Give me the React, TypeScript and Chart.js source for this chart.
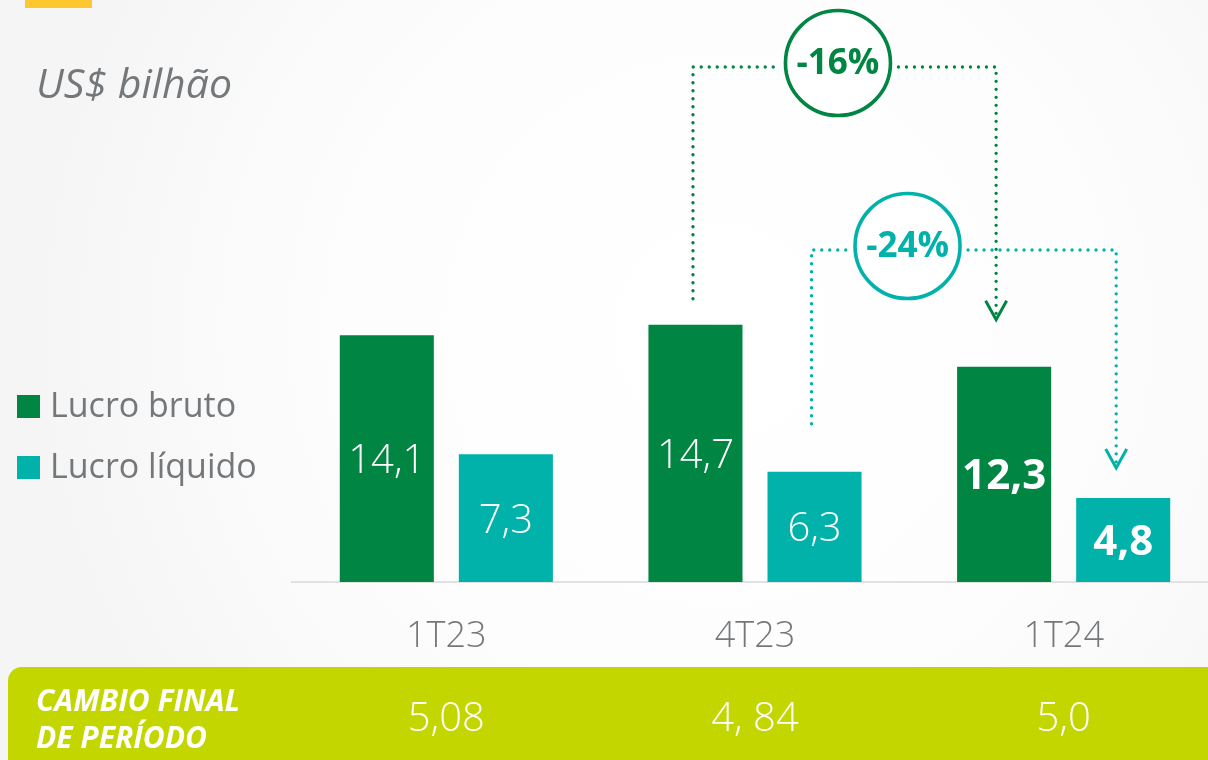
import React, { useEffect, useRef } from "react";
import { Chart, registerables } from "chart.js";

Chart.register(...registerables);

// ---------- data ----------
const categories = ["1T23", "4T23", "1T24"];
const seriesNames = ["Lucro bruto", "Lucro líquido"];
const lucroBruto = [14.1, 14.7, 12.3];
const lucroLiquido = [7.3, 6.3, 4.8];
const boldValue = [false, false, true];
const cambioFinal = ["5,08", "4, 84", "5,0"];
const cambioTitle = ["CAMBIO FINAL", "DE PERÍODO"];
const unitLabel = "US$ bilhão";
const changeBruto = "-16%";
const changeLiquido = "-24%";

// ---------- style ----------
const GREEN = "#008542";
const TEAL = "#00b2a9";
const LIME = "#c4d600";
const YELLOW = "#fdc82f";
const GRAY = "#75787b";
const FONT = '"Open Sans", "Noto Sans", sans-serif';

const fmt = (v: number) => v.toFixed(1).replace(".", ",");

function dotted(ctx: CanvasRenderingContext2D, pts: number[][], color: string) {
  ctx.save();
  ctx.strokeStyle = color;
  ctx.lineWidth = 3.4;
  ctx.lineCap = "round";
  ctx.setLineDash([0, 8]);
  ctx.beginPath();
  ctx.moveTo(pts[0][0], pts[0][1]);
  for (let i = 1; i < pts.length; i++) ctx.lineTo(pts[i][0], pts[i][1]);
  ctx.stroke();
  ctx.restore();
}

function arrowHead(ctx: CanvasRenderingContext2D, x: number, y: number, color: string) {
  ctx.save();
  ctx.strokeStyle = color;
  ctx.lineWidth = 3;
  ctx.lineJoin = "miter";
  ctx.beginPath();
  ctx.moveTo(x - 10.5, y - 19);
  ctx.lineTo(x, y);
  ctx.lineTo(x + 10.5, y - 19);
  ctx.stroke();
  ctx.restore();
}

function badge(ctx: CanvasRenderingContext2D, cx: number, cy: number, text: string, color: string) {
  ctx.save();
  ctx.beginPath();
  ctx.arc(cx, cy, 52.5, 0, Math.PI * 2);
  ctx.fillStyle = "#ffffff";
  ctx.fill();
  ctx.lineWidth = 3.6;
  ctx.strokeStyle = color;
  ctx.stroke();
  ctx.fillStyle = color;
  ctx.font = `700 35px ${FONT}`;
  ctx.textAlign = "center";
  ctx.textBaseline = "middle";
  ctx.fillText(text, cx, cy + 1);
  ctx.restore();
}

function comparison(
  ctx: CanvasRenderingContext2D,
  from: { x: number; y: number },
  to: { x: number; y: number },
  opts: { dxFrom: number; gapFrom: number; dxTo: number; gapTo: number; topY: number; circleDx: number; circleDy: number; text: string; color: string }
) {
  const lx = from.x + opts.dxFrom;
  const rx = to.x + opts.dxTo;
  const ly = from.y - opts.gapFrom;
  const tipY = to.y - opts.gapTo;
  const top = opts.topY;
  const cx = lx + opts.circleDx;
  const cy = top + opts.circleDy;
  const r = 52.5 + 8;
  dotted(ctx, [[lx, ly], [lx, top], [cx - r, top]], opts.color);
  dotted(ctx, [[cx + r, top], [rx, top], [rx, tipY - 4]], opts.color);
  arrowHead(ctx, rx, tipY, opts.color);
  badge(ctx, cx, cy, opts.text, opts.color);
}

const decorPlugin = {
  id: "decor",
  beforeDraw(chart: any) {
    const { ctx, width: w, height: h } = chart;
    ctx.save();
    ctx.fillStyle = "#f6f6f6";
    ctx.fillRect(0, 0, w, h);
    const g = ctx.createRadialGradient(720, 330, 0, 720, 330, 700);
    g.addColorStop(0, "#ffffff");
    g.addColorStop(0.55, "#fdfdfd");
    g.addColorStop(1, "#f5f5f5");
    ctx.fillStyle = g;
    ctx.fillRect(0, 0, w, h);

    // yellow accent
    ctx.fillStyle = YELLOW;
    ctx.fillRect(25, 0, 67, 8);

    // unit label
    ctx.fillStyle = GRAY;
    ctx.font = `italic 400 41px ${FONT}`;
    ctx.textAlign = "left";
    ctx.textBaseline = "alphabetic";
    ctx.fillText(unitLabel, 36, 98);

    // exchange band
    ctx.fillStyle = LIME;
    ctx.beginPath();
    ctx.roundRect(8, 667, w, 140, 14);
    ctx.fill();
    ctx.fillStyle = "#ffffff";
    ctx.font = `italic 700 30px ${FONT}`;
    ctx.fillText(cambioTitle[0], 36, 711);
    ctx.fillText(cambioTitle[1], 36, 748);

    const xs = chart.scales.x;
    ctx.font = `300 40px ${FONT}`;
    ctx.textAlign = "center";
    ctx.textBaseline = "middle";
    cambioFinal.forEach((v, i) => ctx.fillText(v, xs.getPixelForValue(i), 720));
    ctx.restore();
  },
  afterDatasetsDraw(chart: any) {
    const ctx: CanvasRenderingContext2D = chart.ctx;
    const base = chart.scales.y.getPixelForValue(0);
    ctx.save();
    // value labels
    chart.data.datasets.forEach((ds: any, di: number) => {
      const meta = chart.getDatasetMeta(di);
      meta.data.forEach((bar: any, i: number) => {
        const v = ds.data[i] as number;
        ctx.fillStyle = "#ffffff";
        ctx.font = boldValue[i] ? `700 42px ${FONT}` : `300 40px ${FONT}`;
        ctx.textAlign = "center";
        ctx.textBaseline = "middle";
        ctx.fillText(fmt(v), bar.x, (bar.y + base) / 2 + 3);
      });
    });

    // legend
    chart.data.datasets.forEach((ds: any, di: number) => {
      const y = 395 + di * 61;
      ctx.fillStyle = ds.backgroundColor;
      ctx.fillRect(17, y, 23, 23);
      ctx.fillStyle = GRAY;
      ctx.font = `400 34px ${FONT}`;
      ctx.textAlign = "left";
      ctx.textBaseline = "alphabetic";
      ctx.fillText(ds.label, 50, y + 22);
    });

    // comparisons
    const m0 = chart.getDatasetMeta(0).data;
    const m1 = chart.getDatasetMeta(1).data;
    comparison(ctx, m1[1], m1[2], {
      dxFrom: -3, gapFrom: 48, dxTo: -7, gapTo: 30, topY: 250, circleDx: 96, circleDy: -4,
      text: changeLiquido, color: TEAL,
    });
    comparison(ctx, m0[1], m0[2], {
      dxFrom: -2.5, gapFrom: 26, dxTo: -8, gapTo: 47, topY: 67, circleDx: 145, circleDy: -4,
      text: changeBruto, color: GREEN,
    });
    ctx.restore();
  },
};

export default function App() {
  const ref = useRef<HTMLCanvasElement | null>(null);
  useEffect(() => {
    if (!ref.current) return;
    const chart = new Chart(ref.current, {
      type: "bar",
      data: {
        labels: categories,
        datasets: [
          { label: seriesNames[0], data: lucroBruto, backgroundColor: GREEN, barPercentage: 0.79, categoryPercentage: 0.7715 },
          { label: seriesNames[1], data: lucroLiquido, backgroundColor: TEAL, barPercentage: 0.79, categoryPercentage: 0.7715 },
        ],
      },
      options: {
        responsive: false,
        animation: false,
        devicePixelRatio: 1,
        layout: { padding: { left: 292, right: 0, top: 57, bottom: 0 } },
        plugins: { legend: { display: false }, tooltip: { enabled: false } },
        scales: {
          x: {
            grid: { display: true, drawOnChartArea: false, drawTicks: false, color: "transparent" },
            border: { display: true, color: "#e2e2e2", width: 2 },
            ticks: { color: GRAY, font: { family: FONT, size: 36, weight: "300" as any }, padding: 33 },
            afterFit: (s: any) => { s.height = 178; },
          },
          y: { display: false, min: 0, max: 30 },
        },
      },
      plugins: [decorPlugin],
    });
    return () => chart.destroy();
  }, []);
  return (
    <div style={{ position: "fixed", left: 0, top: 0, width: 1208, height: 760, overflow: "hidden" }}>
      <canvas ref={ref} width={1218} height={760} style={{ display: "block" }} />
    </div>
  );
}
